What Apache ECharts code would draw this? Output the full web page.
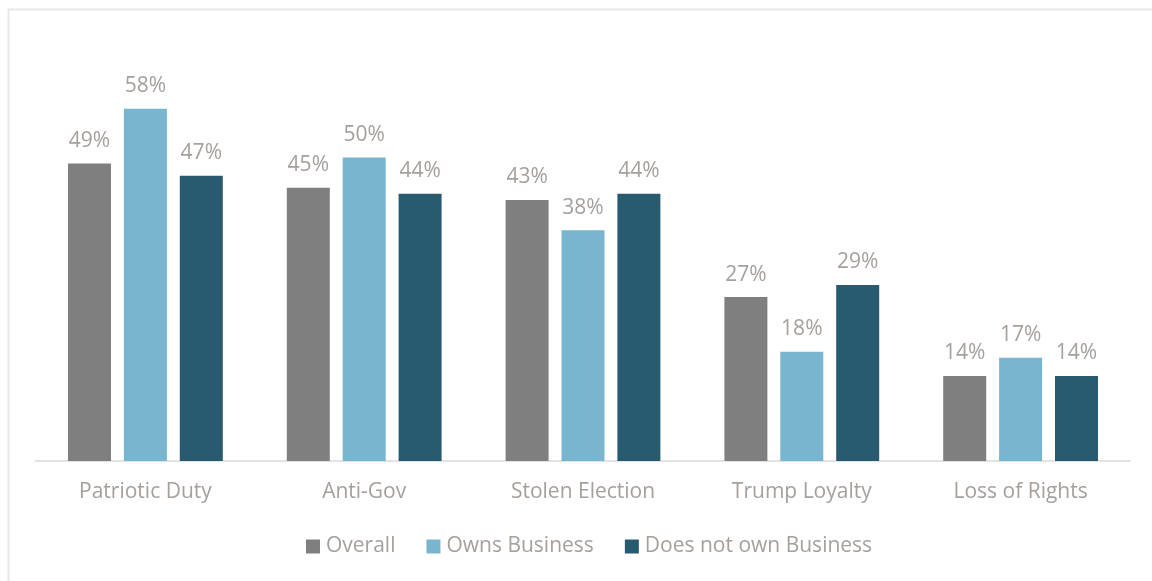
<!DOCTYPE html>
<html>
<head>
<meta charset="utf-8">
<script src="https://cdn.jsdelivr.net/npm/echarts@6/dist/echarts.min.js"></script>
<style>
html,body{margin:0;padding:0;background:#fff;}
#chart{width:1152px;height:581px;}
</style>
</head>
<body>
<div id="chart"></div>
<script>
const categories = ['Patriotic Duty', 'Anti-Gov', 'Stolen Election', 'Trump Loyalty', 'Loss of Rights'];
const overall = [49, 45, 43, 27, 14];
const ownsBusiness = [58, 50, 38, 18, 17];
const doesNotOwn = [47, 44, 44, 29, 14];
const seriesNames = ['Overall', 'Owns Business', 'Does not own Business'];
const colors = ['#7f7f7f', '#78b6cf', '#285b70'];

const font = 'Open Sans, Lato, sans-serif';
const textColor = '#a6a09c';

const chart = echarts.init(document.getElementById('chart'));
function mk(name, data, color) {
  return {
    name: name, type: 'bar', data: data, barWidth: 43, barGap: '30%',
    itemStyle: { color: color },
    label: { show: true, position: 'top', distance: 12, formatter: '{c}%', color: textColor, fontSize: 21, fontFamily: font },
    animation: false
  };
}
chart.setOption({
  animation: false,
  graphic: [{
    type: 'rect', left: 6, top: 7, shape: { width: 1170, height: 600 },
    style: { fill: 'none', stroke: '#e8e8e8', lineWidth: 2 }, silent: true
  }],
  grid: { left: 36, right: 22, top: 36, bottom: 120 },
  legend: {
    top: 531, left: 301, itemWidth: 14, itemHeight: 14, itemGap: 31,
    icon: 'rect',
    textStyle: { color: textColor, fontSize: 21, fontFamily: font, padding: [0, 0, 0, 1] },
    data: [
      { name: seriesNames[0] },
      { name: seriesNames[1], textStyle: { width: 160 } },
      { name: seriesNames[2] }
    ]
  },
  xAxis: {
    type: 'category', data: categories,
    axisLine: { lineStyle: { color: '#e3e3e3', width: 2 } },
    axisTick: { show: false },
    axisLabel: { color: textColor, fontSize: 21, fontFamily: font, margin: 21 }
  },
  yAxis: {
    type: 'value', min: 0, max: 70, interval: 10,
    show: false
  },
  series: [
    mk(seriesNames[0], overall, colors[0]),
    mk(seriesNames[1], ownsBusiness, colors[1]),
    mk(seriesNames[2], doesNotOwn, colors[2])
  ]
});
</script>
</body>
</html>
